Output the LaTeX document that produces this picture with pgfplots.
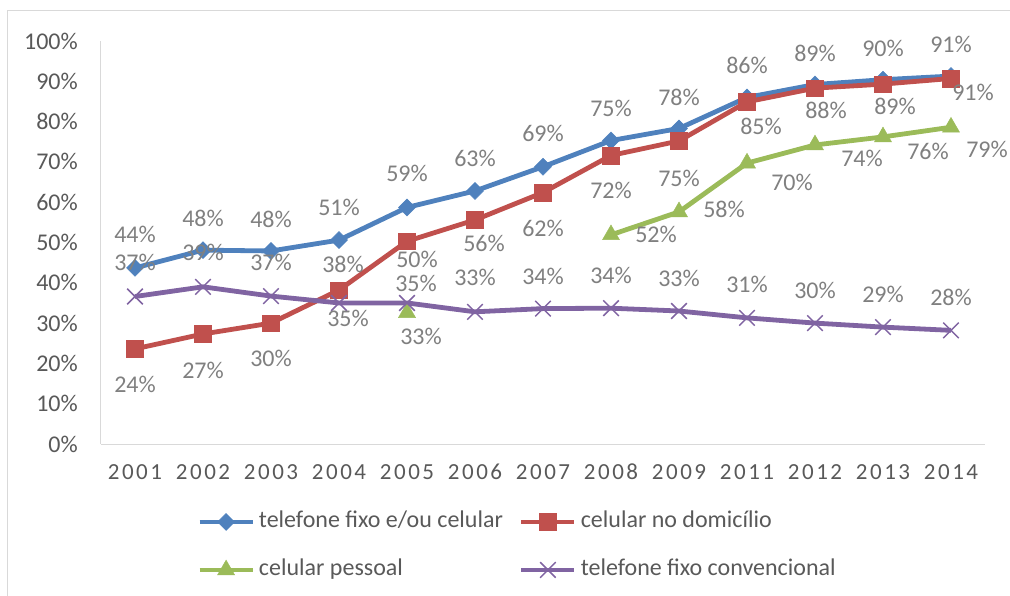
\documentclass[border=0pt]{standalone}
\usepackage{fontspec}
\setmainfont{Carlito}
\newfontfamily\yearfont[LetterSpace=11]{Carlito}
\usepackage{pgfplots}
\usepackage{pgfplotstable}
\pgfplotsset{compat=1.18}
\definecolor{cblue}{HTML}{4F81BD}
\definecolor{cred}{HTML}{C0504D}
\definecolor{cgreen}{HTML}{9BBB59}
\definecolor{cpurple}{HTML}{8064A2}
\definecolor{lblgray}{HTML}{808080}
\definecolor{tickgray}{HTML}{595959}
\definecolor{axgray}{HTML}{D9D9D9}

% x = category index (2001..2009, 2011..2014), y = value, dx/dy = label offset
\pgfplotstableread{
x y dx dy
0 43.7 0 33
1 48.1 0 32
2 47.9 0 32
3 50.6 0 33
4 58.7 0 34
5 62.8 0 33
6 68.8 0 33
7 75.3 0 32
8 78.3 0 31
9 86.0 0 32
10 89.2 0 31
11 90.4 0 31
12 91.3 0 32
}\blueT
\pgfplotstableread{
x y dx dy
0 23.6 0 -36
1 27.3 0 -36
2 30.0 0 -35
3 38.2 4 26
4 50.3 10 -18
5 55.6 9 -23
6 62.4 0 -36
7 71.6 0 -35
8 75.2 0 -37
9 84.9 14 -25
10 88.3 11 -22
11 89.3 12 -22
12 90.7 22 -14
}\redT
\pgfplotstableread{
x y dx dy
4 32.6 14 -24
5 nan 0 0
6 nan 0 0
7 51.9 45 0
8 57.6 45 2
9 69.7 45 -19
10 74.2 47 -13
11 76.2 45 -15
12 78.6 36 -22
}\greenT
\pgfplotstableread{
x y dx dy
0 36.6 0 34
1 39.0 0 34
2 36.7 0 34
3 35.0 9 -15
4 35.0 9 20
5 32.8 0 34
6 33.6 0 32
7 33.7 0 33
8 33.0 0 33
9 31.3 0 33
10 30.0 0 33
11 29.0 0 33
12 28.2 0 33
}\purpleT

\pgfplotsset{
  lbl/.style={draw=none, mark=none, forget plot,
    point meta=\thisrow{y},
    nodes near coords={\pgfmathprintnumber[fixed,precision=0,assume math mode=true]{\pgfplotspointmeta}\%},
    visualization depends on={\thisrow{dx}\as\lblx},
    visualization depends on={\thisrow{dy}\as\lbly},
    nodes near coords style={anchor=center, xshift=\lblx bp, yshift=\lbly bp,
      text=lblgray, font=\fontsize{24bp}{28bp}\selectfont, inner sep=0pt}},
}

\begin{document}
\begin{tikzpicture}
\useasboundingbox (-101bp,-152bp) rectangle (909bp,444bp);
\begin{axis}[
  scale only axis, width=884bp, height=403bp,
  xmin=-0.5, xmax=12.5, ymin=0, ymax=100,
  clip=false,
  axis x line*=bottom, axis y line*=left,
  axis line style={draw=axgray, line width=1bp, -},
  xtick={0,...,12},
  xticklabels={2001,2002,2003,2004,2005,2006,2007,2008,2009,2011,2012,2013,2014},
  ytick={0,10,...,100},
  yticklabel={\pgfmathprintnumber[assume math mode=true]{\tick}\%},
  major tick length=0pt,
  tick label style={font=\fontsize{24bp}{28bp}\selectfont, text=tickgray, inner sep=0pt},
  xticklabel style={font=\yearfont\fontsize{23bp}{28bp}\selectfont, anchor=center, yshift=-28bp},
  yticklabel style={anchor=east, xshift=-23bp},
  unbounded coords=jump,
  legend columns=2,
  legend cell align=left,
  legend style={draw=none, fill=none, inner sep=0pt,
    font=\fontsize{24bp}{28bp}\selectfont, text=tickgray,
    at={(0.1086,-0.253)}, anchor=west,
    row sep=26bp,
    nodes={inner sep=0pt, text height=17bp, text depth=5bp},
    /tikz/every odd column/.append style={column sep=4bp},
    /tikz/every even column/.append style={column sep=16bp}},
  legend image code/.code={\draw[mark repeat=2,mark phase=2] plot coordinates {(0bp,0bp) (26.5bp,0bp) (53bp,0bp)};},
]
\addplot[cblue, line width=4.8bp, mark=square*, mark size=6bp, mark options={rotate=45, solid, line width=0.5bp}] table[x=x,y=y] {\blueT};
\addlegendentry{telefone fixo e/ou celular}
\addplot[cred, line width=4.8bp, mark=square*, mark size=8.3bp, mark options={solid, line width=0.5bp}] table[x=x,y=y] {\redT};
\addlegendentry{celular no domicílio}
\addplot[cgreen, line width=4.8bp, mark=triangle*, mark size=9.8bp, mark options={solid, line width=0.5bp}] table[x=x,y=y] {\greenT};
\addlegendentry{celular pessoal}
\addplot[cpurple, line width=4.8bp, mark=x, mark size=11bp, mark options={solid, line width=1.5bp}] table[x=x,y=y] {\purpleT};
\addlegendentry{telefone fixo convencional}

\addplot[lbl] table[x=x,y=y] {\blueT};
\addplot[lbl] table[x=x,y=y] {\redT};
\addplot[lbl] table[x=x,y=y] {\greenT};
\addplot[lbl] table[x=x,y=y] {\purpleT};
\end{axis}
\draw[axgray, line width=1bp] (-93bp,-152bp) -- (-93bp,433bp) -- (909bp,433bp);
\end{tikzpicture}
\end{document}
